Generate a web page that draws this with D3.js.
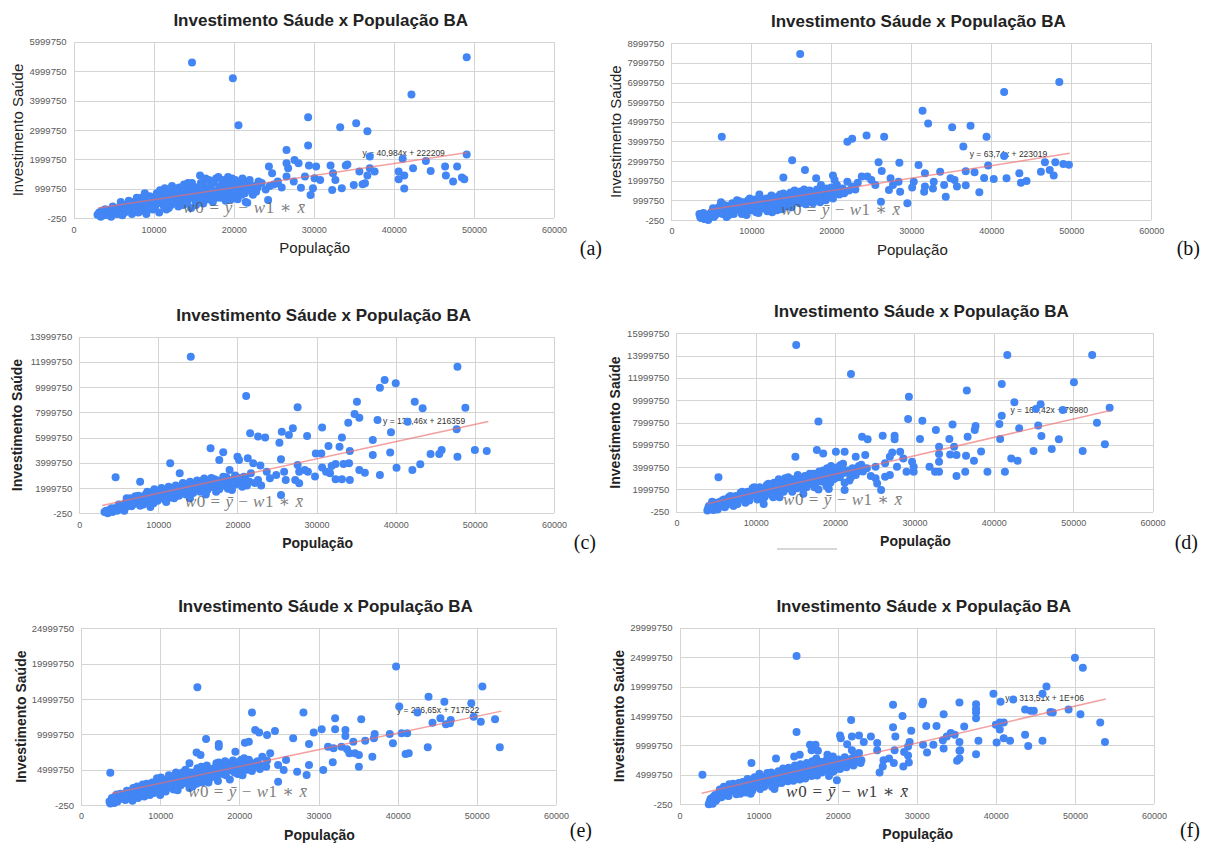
<!DOCTYPE html>
<html>
<head>
<meta charset="utf-8">
<script src="https://cdn.jsdelivr.net/npm/d3@7"></script>
<style>
  body { margin: 0; background: #fff; }
  svg { display: block; font-family: Arial, "Liberation Sans", sans-serif; }
  .grid line { stroke: #d4d4d4; stroke-width: 1; shape-rendering: crispEdges; }
  .grid path { display: none; }
  .ticks text { fill: #5a5a5a; }
  .ticks path, .ticks line { display: none; }
</style>
</head>
<body>
<svg width="1210" height="847"></svg>
<script>
// population in thousands, investment in millions
var pointsA = [
  [14.8,5.29],[19.9,4.76],[20.6,3.16],[49.1,5.47],[42.2,4.21],[29.3,3.43],[29.3,2.47],[33.3,3.09],[35.3,3.23],[36.7,2.96],
  [26.6,2.32],[27.6,1.98],[37.0,2.10],[49.1,2.17],[41.1,2.02],[44.0,1.95],[42.4,1.70],[46.4,1.76],[47.9,1.76],[44.6,1.61],
  [46.5,1.45],[47.4,1.25],[48.5,1.39],[48.8,1.33],[40.6,1.33],[40.6,1.59],[41.3,1.45],[41.3,1.01],[37.6,1.59],[37.0,1.70],
  [35.7,1.59],[36.7,1.45],[36.4,1.19],[35.0,1.13],[36.1,1.16],[34.0,1.79],[34.2,1.83],[32.1,1.79],[32.4,1.53],[32.7,1.30],
  [33.5,1.02],[32.3,0.96],[30.3,1.76],[29.4,1.79],[28.9,1.42],[30.1,1.36],[30.8,1.30],[29.9,1.02],[29.6,0.79],[28.4,1.04],
  [28.1,1.87],[26.6,1.87],[26.6,1.42],[26.8,1.70],[24.4,1.76],[24.8,1.53],[24.3,0.62],[21.7,0.53],[23.1,1.25],[25.5,1.19],
  [27.5,1.25],[23.5,1.2],[24.0,0.98],[24.5,1.1],[25.0,1.15],[25.5,1.25],[26.0,1.05],
  [3.0,0.12],[3.2,0.2],[3.5,0.25],[3.8,0.1],[4.0,0.3],[4.3,0.18],[4.6,0.28],[5.0,0.22],[5.3,0.35],[5.6,0.3],
  [6.0,0.4],[6.2,0.25],[6.5,0.45],[6.8,0.35],[7.0,0.5],[7.2,0.3],[7.5,0.55],[7.8,0.42],[8.0,0.6],[8.3,0.38],
  [8.5,0.7],[8.8,0.5],[9.0,0.62],[9.2,0.35],[9.5,0.75],[9.8,0.55],[10.0,0.68],[10.2,0.4],[10.4,0.85],[10.6,0.6],
  [10.8,0.95],[11.0,0.5],[11.2,0.72],[11.4,1.02],[11.6,0.3],[11.8,0.62],[12.0,0.82],[12.2,0.45],[12.4,0.95],[12.6,0.7],
  [12.8,0.55],[13.0,0.88],[13.2,1.05],[13.4,0.6],[13.6,0.75],[13.8,1.15],[14.0,0.9],[14.2,0.5],[14.4,1.0],[14.6,0.7],
  [14.8,1.2],[15.0,0.85],[15.2,0.6],[15.4,1.05],[15.6,0.9],[15.8,1.45],[16.0,0.75],[16.3,1.1],[16.6,0.95],[16.9,1.3],
  [17.2,0.8],[17.5,1.2],[17.8,1.35],[18.0,0.95],[18.3,1.1],[18.6,1.3],[18.9,0.85],[19.2,1.2],[19.5,1.0],[19.8,1.35],
  [20.0,0.75],[20.3,1.1],[20.6,0.9],[20.9,1.25],[21.2,1.0],[21.5,0.55],[21.8,1.15],[22.2,0.95],[22.6,1.1],[23.0,1.05],
  [3.4,0.05],[3.9,0.3],[4.4,0.1],[4.9,0.4],[5.4,0.15],[5.9,0.55],[6.4,0.2],[6.9,0.6],[7.4,0.2],[7.9,0.7],
  [8.4,0.25],[8.9,0.85],[9.4,0.5],[9.9,0.3],[10.3,0.75],[10.7,0.2],[11.1,0.85],[11.5,0.65],[11.9,0.35],[12.3,1.1],
  [12.7,0.85],[13.1,0.4],[13.5,0.95],[13.9,0.7],[14.3,1.2],[14.7,0.35],[15.1,1.05],[15.5,0.75],[15.9,1.2],[16.2,0.5],
  [16.5,1.35],[16.8,0.65],[17.1,1.05],[17.4,0.55],[17.7,0.9],[18.1,1.4],[18.4,0.7],[18.7,1.05],[19.0,0.6],[19.3,1.4],
  [19.6,0.8],[19.9,1.15],[20.2,1.3],[20.5,0.65],[20.8,1.05],[21.1,1.35],[21.4,0.85],[21.7,1.2],[22.0,1.3],[22.4,0.8],
  [14.0,0.6],[13.3,0.8],[12.9,1.0],[11.7,0.9],[10.9,0.6],[9.7,0.65],[8.6,0.55],[7.6,0.38],[6.6,0.33],[5.8,0.15],
  [4.7,0.05],[6.1,0.1],[7.3,0.15],[8.1,0.2],[9.1,0.15],[10.1,0.55],[11.3,0.4],[12.1,0.6],[13.7,0.45],[14.5,0.85],
  [15.3,0.45],[16.1,0.95],[16.7,0.8],[17.3,1.2],[17.9,0.7],[18.5,0.9],[19.1,1.05],[19.7,0.65],[20.4,0.95],[21.0,0.8],
  [21.6,1.0],[22.8,0.9],[15.7,0.6],[13.9,1.05]
];
var pointsB = [
  [16.1,8.46],[48.5,7.03],[41.6,6.52],[31.4,5.57],[32.1,4.91],[35.1,4.72],[37.4,4.80],[39.4,4.24],[36.5,3.74],[6.3,4.24],
  [22.0,3.99],[22.6,4.14],[24.4,4.30],[26.6,4.24],[15.1,3.04],[14.0,2.16],[16.7,2.55],[25.9,2.94],[26.3,2.50],[28.5,2.92],
  [30.9,2.80],[31.7,2.38],[33.6,2.46],[41.6,3.26],[46.7,2.94],[48.0,2.94],[49.0,2.85],[49.7,2.82],[39.6,2.77],[46.2,2.46],
  [47.3,2.55],[47.8,2.26],[43.5,2.38],[43.7,1.90],[44.4,1.99],[41.9,2.12],[40.3,2.09],[39.1,2.14],[37.9,2.43],[36.8,2.48],
  [38.5,1.41],[36.8,1.77],[35.4,2.04],[35.7,1.70],[34.3,1.19],[34.1,1.78],[34.9,2.12],[32.8,1.95],[31.7,1.70],[31.6,1.44],
  [32.7,1.61],[29.5,0.85],[26.2,0.93],[28.4,1.95],[28.6,1.44],[30.3,1.95],[30.1,1.66],[27.4,2.12],[27.7,1.78],[27.2,1.53],
  [25.5,1.78],[25.0,2.04],[24.5,2.21],[23.8,2.21],[23.3,1.90],[22.6,1.70],[22.0,1.95],[21.6,1.36],[20.7,1.78],[20.2,2.26],
  [20.4,2.04],[18.7,1.78],[18.1,2.12],
  [3.5,0.3],[3.7,0.1],[3.9,0.2],[4.1,0.05],[4.3,0.25],[4.6,0.0],[5.0,0.4],[5.3,0.15],[5.6,0.5],[6.0,0.35],
  [6.2,0.9],[6.5,0.55],[6.8,0.4],[7.0,0.7],[7.3,0.5],[7.6,0.85],[7.9,0.6],[8.2,1.0],[8.4,0.75],[8.7,0.45],
  [9.0,0.9],[9.3,0.7],[9.6,1.0],[9.9,0.6],[10.2,0.85],[10.5,1.05],[10.8,0.7],[11.0,1.3],[11.3,0.9],[11.6,0.6],
  [11.9,1.1],[12.2,0.8],[12.5,1.25],[12.8,1.0],[13.1,0.75],[13.4,1.2],[13.7,1.0],[14.0,1.35],[14.3,0.9],[14.6,1.15],
  [14.9,1.4],[15.2,1.05],[15.5,1.3],[15.8,0.95],[16.1,1.45],[16.4,1.2],[16.7,1.0],[17.0,1.35],[17.3,1.5],[17.6,1.15],
  [17.9,1.3],[18.2,1.55],[18.5,1.05],[18.8,1.4],[19.1,1.2],[19.4,1.6],[19.7,1.35],[20.0,1.65],[20.3,1.45],[13.8,0.55],
  [12.0,0.45],
  [3.6,0.15],[4.0,0.35],[4.4,0.1],[4.8,0.3],[5.2,0.6],[5.5,0.25],[5.9,0.65],[6.4,0.3],[6.7,0.75],[7.1,0.4],
  [7.5,0.65],[7.8,0.3],[8.1,0.55],[8.5,0.95],[8.9,0.65],[9.2,0.4],[9.5,0.8],[9.8,1.1],[10.1,0.5],[10.4,0.7],
  [10.7,0.95],[11.1,0.55],[11.5,1.05],[11.8,0.75],[12.1,0.55],[12.4,0.95],[12.7,0.65],[13.0,1.15],[13.3,0.85],[13.6,1.3],
  [13.9,0.85],[14.2,1.1],[14.5,0.7],[14.8,1.25],[15.1,0.9],[15.4,1.5],[15.7,1.15],[16.0,0.85],[16.3,1.3],[16.6,1.55],
  [16.9,1.15],[17.2,0.95],[17.5,1.4],[17.8,1.0],[18.1,1.25],[18.4,1.45],[18.7,1.2],[19.0,1.5],[19.3,1.0],[19.6,1.45],
  [19.9,1.25],[20.5,1.6],[21.0,1.3],[12.6,0.4],[10.9,0.35],[9.4,0.25],[6.9,0.15],
  [5.1,0.2],[6.0,0.55],[7.2,0.25],[8.0,0.8],[8.8,0.3],[9.7,0.5],[10.6,0.4],[11.4,0.75],[12.3,0.6],[13.2,0.5],
  [14.1,0.7],[15.0,0.65],[15.9,1.2],[16.8,0.8],[17.7,0.85],[18.6,0.9],[19.5,1.15],[20.2,1.1],[20.8,1.45],[21.4,1.6],
  [22.2,1.5],[23.0,1.55]
];
var pointsC = [
  [14.1,12.41],[47.8,11.62],[21.1,9.30],[38.6,10.57],[40.0,10.30],[38.0,9.96],[27.6,8.40],[35.1,8.85],[42.4,8.85],[43.4,8.32],
  [48.8,8.37],[34.8,7.87],[35.4,7.58],[37.7,7.40],[34.0,7.18],[41.5,7.26],[47.7,6.66],[39.4,6.42],[30.7,6.81],[25.6,6.47],
  [27.0,6.74],[26.5,6.21],[28.8,6.13],[21.6,6.34],[22.6,6.08],[23.5,6.00],[25.3,5.60],[33.2,6.00],[37.1,5.81],[31.5,5.34],
  [32.9,5.28],[34.2,4.94],[16.6,5.15],[18.2,4.83],[20.0,4.49],[21.3,4.36],[17.7,4.23],[20.2,4.23],[11.5,3.96],[12.7,3.17],
  [25.5,4.28],[29.9,4.75],[30.6,4.75],[37.1,4.62],[39.3,4.81],[45.8,5.02],[44.4,4.70],[45.5,4.70],[50.0,5.02],[51.5,4.94],
  [47.8,4.49],[43.1,3.88],[40.1,3.62],[42.1,3.43],[38.0,3.04],[36.1,3.22],[35.4,3.43],[34.1,3.96],[33.4,3.91],[32.4,3.91],
  [31.9,3.75],[30.7,3.64],[31.2,3.30],[31.7,3.17],[32.4,2.69],[33.2,2.69],[34.2,2.64],[29.8,2.91],[28.5,3.43],[28.9,3.30],
  [27.8,3.30],[27.6,3.83],[27.8,2.38],[27.3,2.64],[25.5,1.45],[26.1,2.64],[25.9,3.30],[24.9,3.04],[24.1,2.77],[23.7,3.30],
  [22.9,3.78],[22.0,3.96],[21.7,3.17],[22.6,2.64],[21.5,2.51],[20.2,2.38],[19.8,2.91],[19.0,3.43],[19.3,1.85],[4.6,2.85],
  [7.7,2.51],
  [3.2,0.1],[3.6,0.0],[3.9,0.3],[4.2,0.1],[4.5,0.4],[4.8,0.2],[5.2,0.6],[5.5,0.35],[5.8,0.8],[6.0,1.2],
  [6.3,0.9],[6.6,0.55],[6.9,1.1],[7.2,0.8],[7.5,1.4],[7.8,1.0],[8.1,0.7],[8.4,1.5],[8.7,1.2],[9.0,0.9],
  [9.3,1.7],[9.6,1.35],[9.9,1.0],[10.2,1.8],[10.5,1.4],[10.8,1.1],[11.1,1.9],[11.4,1.6],[11.7,1.25],[12.0,2.0],
  [12.3,1.7],[12.6,1.4],[12.9,2.1],[13.2,1.8],[13.5,1.5],[13.8,2.3],[14.1,1.95],[14.4,1.6],[14.7,2.4],[15.0,2.0],
  [15.3,1.7],[15.6,2.6],[15.9,2.2],[16.2,1.85],[16.5,2.5],[16.8,2.1],[17.1,2.7],[17.4,2.3],[17.7,1.9],[18.0,2.6],
  [18.3,2.2],[18.6,2.85],[18.9,2.4],[19.2,2.0],[19.5,2.7],[19.8,2.3],[20.4,2.6],[20.8,2.9],[21.2,2.2],[14.0,1.2],
  [11.0,0.9],[9.0,0.5],
  [3.4,0.2],[3.8,0.15],[4.1,0.4],[4.6,0.3],[5.0,0.7],[5.4,0.5],[5.7,0.2],[6.1,0.8],[6.5,1.2],[6.8,0.7],
  [7.1,1.35],[7.4,1.0],[7.7,0.6],[8.0,1.3],[8.3,0.95],[8.6,1.7],[8.9,1.4],[9.2,1.05],[9.5,1.9],[9.8,1.6],
  [10.1,1.25],[10.4,2.0],[10.7,1.65],[11.0,1.3],[11.3,2.1],[11.6,1.8],[11.9,1.5],[12.2,2.2],[12.5,1.9],[12.8,1.55],
  [13.1,2.4],[13.4,2.0],[13.7,1.7],[14.0,2.5],[14.3,2.15],[14.6,1.8],[14.9,2.6],[15.2,2.3],[15.5,1.95],[15.8,2.75],
  [16.1,2.4],[16.4,2.05],[16.7,2.8],[17.0,2.3],[17.3,1.7],[17.6,2.5],[17.9,2.15],[18.2,2.9],[18.5,2.45],[18.8,1.95],
  [19.1,2.6],[19.4,2.2],[19.7,3.0],[20.0,2.5],[20.6,2.1],[21.0,2.75],[9.4,0.8],[12.0,1.2],[16.0,1.5],
  [5.9,0.5],[6.7,0.9],[7.6,1.2],[8.5,1.1],[9.4,1.5],[10.3,1.5],[11.2,1.7],[12.1,1.6],[13.0,1.9],[13.9,2.1],
  [14.8,2.05],[15.7,2.3],[16.6,2.2],[17.5,2.6],[18.4,2.4],[19.3,2.4],[20.2,2.8],[21.4,2.5],[22.2,2.4],[23.0,2.2]
];
var pointsD = [
  [15.1,14.95],[41.7,14.05],[52.4,14.05],[22.0,12.35],[50.1,11.60],[41.0,11.45],[36.6,10.86],[29.3,10.32],[42.6,9.81],[45.9,9.63],
  [54.6,9.33],[48.7,9.12],[45.3,9.21],[41.0,8.61],[29.2,8.31],[31.0,8.16],[17.9,8.10],[34.8,7.83],[40.7,7.86],[37.7,7.69],
  [45.6,7.72],[53.0,7.98],[43.2,7.48],[37.6,7.33],[32.7,7.33],[26.0,6.82],[27.5,6.82],[27.5,6.49],[23.4,6.73],[24.1,6.49],
  [34.4,6.52],[36.7,6.73],[30.7,6.52],[40.8,6.52],[46.0,6.79],[48.2,6.49],[54.0,6.04],[51.2,5.44],[47.3,5.62],[45.0,5.44],
  [38.4,5.41],[37.5,4.58],[36.5,5.02],[35.3,5.08],[34.5,5.14],[35.0,5.83],[33.1,5.83],[33.1,5.17],[33.1,4.49],[31.9,4.04],
  [32.6,3.59],[33.1,3.59],[29.0,3.59],[29.9,3.59],[29.7,4.49],[29.9,4.04],[27.8,4.04],[28.6,4.78],[28.2,5.38],[27.2,5.32],
  [26.9,4.93],[26.3,4.34],[25.1,4.04],[26.9,3.29],[26.3,3.14],[25.1,2.99],[25.3,2.54],[25.8,1.94],[39.2,3.59],[41.4,3.59],
  [43.0,4.58],[42.2,4.78],[35.3,3.20],[36.4,3.59],[5.3,3.08],[17.7,5.53],[18.5,5.23],[15.0,4.93],[20.1,5.38],[21.2,5.38],
  [22.6,4.93],[23.8,5.08],[20.7,4.19],[22.1,3.59],[21.2,1.94],[19.2,2.03],[20.2,3.44],
  [3.9,0.1],[4.1,0.5],[4.3,0.2],[4.5,0.9],[4.8,0.4],[5.2,0.2],[5.6,0.7],[6.0,1.1],[6.3,0.6],[6.6,1.3],
  [6.9,0.9],[7.2,0.5],[7.5,1.4],[7.8,1.0],[8.1,1.7],[8.4,1.2],[8.7,0.8],[9.0,1.8],[9.3,1.4],[9.6,2.1],
  [9.9,1.6],[10.2,1.1],[10.5,2.2],[10.8,1.7],[11.1,1.3],[11.4,2.4],[11.7,1.9],[12.0,1.5],[12.3,2.6],[12.6,2.1],
  [12.9,2.9],[13.2,2.3],[13.5,1.8],[13.8,2.7],[14.1,3.1],[14.4,2.2],[14.7,2.9],[15.0,2.4],[15.3,3.3],[15.6,2.7],
  [15.9,2.1],[16.2,3.2],[16.5,2.6],[16.8,3.4],[17.1,2.9],[17.4,2.2],[17.7,3.1],[18.0,3.6],[18.3,2.7],[18.6,3.3],
  [18.9,2.3],[19.2,3.5],[19.5,4.1],[19.8,2.9],[20.2,3.7],[20.6,3.1],[21.0,4.3],[21.4,3.5],[21.8,2.8],[22.2,3.9],
  [22.6,3.3],[23.0,4.1],[23.5,3.6],[24.0,3.9],[24.5,3.2],[11.0,0.7],[13.0,1.3],[16.0,1.6],
  [4.0,0.3],[4.4,0.6],[4.7,0.15],[5.0,0.8],[5.4,0.45],[5.8,1.0],[6.1,0.4],[6.5,0.9],[6.8,1.4],[7.1,0.8],
  [7.4,1.15],[7.7,0.7],[8.0,1.3],[8.3,1.8],[8.6,1.1],[8.9,1.5],[9.2,1.0],[9.5,1.7],[9.8,2.2],[10.1,1.4],
  [10.4,1.8],[10.7,1.2],[11.0,2.0],[11.3,1.6],[11.6,2.5],[11.9,1.8],[12.2,1.3],[12.5,2.3],[12.8,1.7],[13.1,2.6],
  [13.4,2.0],[13.7,3.0],[14.0,2.1],[14.3,2.6],[14.6,1.8],[14.9,2.7],[15.2,2.1],[15.5,3.0],[15.8,2.4],[16.1,2.9],
  [16.4,2.2],[16.7,3.1],[17.0,2.5],[17.3,3.4],[17.6,2.6],[17.9,2.0],[18.2,3.0],[18.5,3.7],[18.8,2.8],[19.1,3.2],
  [19.4,2.6],[19.7,3.6],[20.0,3.0],[20.4,4.0],[20.8,3.4],[21.2,2.6],[21.6,3.7],[22.0,3.1],[22.8,3.6],[23.3,4.2],
  [5.5,0.9],[6.4,1.1],[7.3,1.2],[8.2,1.4],[9.1,1.3],[10.0,1.9],[10.9,2.0],[11.8,2.2],[12.7,2.4],[13.6,2.5],
  [14.5,2.5],[15.4,2.8],[16.3,2.8],[17.2,3.2],[18.1,3.2],[19.0,3.9],[19.9,3.4],[20.9,3.9],[21.9,3.4],[23.1,3.9]
];
var pointsE = [
  [14.7,16.65],[39.8,19.58],[50.7,16.75],[43.9,15.33],[45.9,14.62],[49.3,14.39],[40.2,13.92],[42.5,13.07],[21.6,13.07],[28.1,13.07],
  [32.1,12.26],[35.4,12.12],[45.4,12.26],[46.7,12.03],[49.6,12.5],[52.3,12.12],[50.5,11.79],[44.4,11.65],[46.1,11.42],[46.6,11.56],
  [40.5,10.14],[41.2,10.14],[39.0,10.05],[37.1,10.05],[35.9,9.10],[37.0,9.43],[39.4,8.73],[34.4,8.96],[33.4,10.61],[33.4,9.76],
  [32.1,10.71],[30.4,10.71],[29.4,10.24],[22.0,10.61],[22.5,10.24],[23.5,9.91],[24.5,10.47],[15.8,9.34],[17.4,8.63],[17.4,8.25],
  [20.7,8.82],[21.2,8.96],[26.8,9.43],[28.8,8.63],[31.2,8.25],[31.9,8.02],[32.9,8.25],[33.6,7.88],[33.9,7.31],[34.6,7.31],
  [35.1,7.08],[36.8,6.84],[41.4,7.31],[41.0,7.22],[43.8,8.16],[52.9,8.16],[35.1,5.42],[30.6,4.95],[31.8,6.04],[28.8,5.66],
  [27.3,4.72],[28.5,4.25],[25.9,6.37],[24.9,5.66],[25.6,4.95],[24.9,3.30],[22.9,6.84],[23.9,7.31],[19.5,7.55],[20.2,6.37],
  [3.7,4.58],[14.6,7.41],[15.1,7.08],[13.7,5.90],[17.1,5.90],[19.0,5.42],[21.5,5.90],[23.4,5.42],
  [3.6,0.5],[3.9,1.0],[4.2,0.3],[4.5,1.5],[4.8,0.8],[5.2,1.2],[5.6,0.7],[6.0,1.8],[6.3,1.2],[6.6,2.4],
  [6.9,1.6],[7.2,1.0],[7.5,2.2],[7.8,2.9],[8.1,1.8],[8.4,2.5],[8.7,1.4],[9.0,3.2],[9.3,2.4],[9.6,3.8],
  [9.9,2.9],[10.2,1.9],[10.5,3.5],[10.8,2.6],[11.1,4.2],[11.4,3.2],[11.7,2.2],[12.0,4.6],[12.3,3.6],[12.6,2.8],
  [12.9,4.2],[13.2,5.0],[13.5,3.4],[13.8,4.6],[14.1,2.6],[14.4,3.9],[14.7,5.2],[15.0,4.1],[15.3,3.2],[15.6,4.8],
  [15.9,5.6],[16.2,3.7],[16.5,4.5],[16.8,5.2],[17.1,3.9],[17.4,6.0],[17.7,4.7],[18.0,5.4],[18.3,4.2],[18.6,5.9],
  [18.9,4.9],[19.2,6.3],[19.5,5.2],[19.8,4.4],[20.2,5.8],[20.6,6.6],[21.0,5.0],[21.4,6.0],[21.8,5.4],[22.3,6.2],
  [23.0,5.5],[6.5,0.6],[10.0,1.4],
  [3.7,0.2],[4.0,0.7],[4.3,1.2],[4.6,0.5],[5.0,1.6],[5.4,0.9],[5.8,2.0],[6.1,1.4],[6.4,0.9],[6.8,2.0],
  [7.1,2.6],[7.4,1.5],[7.7,2.2],[8.0,1.2],[8.3,3.0],[8.6,2.1],[8.9,2.7],[9.2,1.7],[9.5,3.3],[9.8,2.4],
  [10.1,3.9],[10.4,2.8],[10.7,1.9],[11.0,3.4],[11.3,2.5],[11.6,4.0],[11.9,3.0],[12.2,2.1],[12.5,3.8],[12.8,4.6],
  [13.1,3.1],[13.4,4.1],[13.7,2.4],[14.0,3.6],[14.3,4.6],[14.6,3.0],[14.9,4.3],[15.2,5.4],[15.5,3.6],[15.8,4.4],
  [16.1,3.2],[16.4,5.0],[16.7,4.0],[17.0,4.8],[17.3,3.4],[17.6,5.4],[17.9,4.4],[18.2,6.2],[18.5,5.0],[18.8,3.6],
  [19.1,5.6],[19.4,4.6],[19.7,6.0],[20.0,5.0],[20.4,4.2],[20.8,5.6],[21.2,6.4],[21.6,4.8],[22.0,5.9],[22.6,5.1],
  [5.5,1.4],[6.7,1.3],[7.6,1.8],[8.5,2.8],[9.4,2.9],[10.3,3.4],[11.2,3.0],[12.1,3.3],[13.0,3.6],[13.9,4.0],
  [14.8,3.6],[15.7,4.1],[16.6,4.3],[17.5,4.5],[18.4,5.2],[19.3,5.4],[20.3,5.1],[21.3,5.5],[22.4,5.8],[23.5,6.3]
];
var pointsF = [
  [14.8,25.2],[50.0,24.9],[51.0,23.2],[46.4,20.0],[39.7,18.8],[45.9,18.8],[42.2,17.8],[35.4,17.3],[27.0,16.9],[30.8,17.4],
  [30.7,17.0],[33.4,15.3],[37.5,17.0],[37.5,16.2],[40.6,17.4],[43.7,16.1],[44.4,15.9],[44.8,15.9],[46.9,15.7],[47.2,15.6],
  [49.2,16.1],[50.7,15.3],[53.2,13.9],[53.8,10.6],[40.0,13.5],[40.5,13.9],[41.0,13.9],[40.5,12.7],[43.7,11.8],[41.0,11.2],
  [41.8,10.8],[40.1,10.5],[44.1,9.9],[45.9,10.8],[37.8,10.8],[37.5,8.5],[37.5,15.6],[37.5,14.6],[36.0,13.2],[34.3,12.1],
  [33.8,11.5],[34.8,11.8],[35.4,10.6],[35.4,9.1],[35.1,7.4],[35.4,7.8],[35.5,9.2],[33.3,10.9],[33.4,9.5],[32.5,13.3],
  [31.2,13.3],[31.3,8.8],[32.1,10.1],[30.8,10.1],[29.3,12.5],[28.2,15.0],[27.0,13.1],[27.3,11.5],[29.1,10.6],[28.9,9.8],
  [28.4,8.9],[28.9,8.3],[29.0,7.1],[28.3,6.4],[27.2,9.2],[26.5,7.8],[27.1,7.0],[25.8,7.5],[25.3,5.4],[25.7,6.4],
  [25.0,9.2],[25.0,10.4],[24.2,11.5],[23.3,10.6],[22.7,11.7],[21.8,11.5],[21.7,14.3],[20.3,11.7],[20.4,11.2],[21.2,10.2],
  [21.8,9.2],[22.7,8.7],[22.9,7.0],[19.9,4.1],[14.8,12.3],[16.5,10.1],[17.2,10.1],[17.5,9.1],[18.7,8.4],[19.4,8.1],
  [16.7,9.2],[15.2,8.4],[14.5,8.1],[9.1,7.0],[12.2,7.8],[2.9,5.0],[17.9,7.2],[16.0,6.1],
  [3.7,0.0],[3.9,0.8],[4.1,0.3],[4.3,1.3],[4.6,0.6],[5.0,2.0],[5.3,1.2],[5.6,3.0],[5.9,2.0],[6.2,1.4],
  [6.5,2.8],[6.8,3.5],[7.1,2.2],[7.4,3.1],[7.7,1.8],[8.0,3.8],[8.3,2.7],[8.6,4.3],[8.9,3.2],[9.2,2.3],
  [9.5,4.6],[9.8,3.6],[10.1,5.2],[10.4,4.1],[10.7,3.0],[11.0,4.8],[11.3,3.7],[11.6,5.4],[11.9,4.3],[12.2,3.4],
  [12.5,5.6],[12.8,4.5],[13.1,6.1],[13.4,5.0],[13.7,3.9],[14.0,5.8],[14.3,4.6],[14.6,6.6],[14.9,5.3],[15.2,4.2],
  [15.5,6.2],[15.8,5.1],[16.1,7.0],[16.4,5.7],[16.7,4.8],[17.0,6.6],[17.3,7.8],[17.6,5.5],[17.9,6.9],[18.2,5.8],
  [18.5,7.4],[18.8,6.3],[19.1,5.3],[19.4,7.0],[19.7,6.0],[20.1,7.6],[20.5,6.5],[20.9,8.0],[21.3,6.9],[21.8,7.8],
  [22.3,7.2],[9.0,1.8],[12.0,2.6],
  [3.8,0.4],[4.0,1.0],[4.2,0.1],[4.5,1.6],[4.8,1.0],[5.1,2.5],[5.4,1.6],[5.7,2.4],[6.0,1.5],[6.3,3.4],
  [6.6,2.3],[6.9,2.9],[7.2,1.7],[7.5,3.6],[7.8,2.6],[8.1,3.2],[8.4,2.0],[8.7,3.6],[9.0,2.8],[9.3,4.3],
  [9.6,3.0],[9.9,4.1],[10.2,2.6],[10.5,4.6],[10.8,3.6],[11.1,5.3],[11.4,4.1],[11.7,3.0],[12.0,4.8],[12.3,4.0],
  [12.6,5.0],[12.9,3.6],[13.2,5.4],[13.5,4.4],[13.8,6.2],[14.1,5.0],[14.4,4.0],[14.7,5.7],[15.0,4.6],[15.3,6.8],
  [15.6,5.5],[15.9,4.4],[16.2,6.3],[16.5,5.2],[16.8,7.3],[17.1,5.9],[17.4,4.9],[17.7,6.4],[18.0,5.4],[18.3,7.0],
  [18.6,6.0],[18.9,4.8],[19.2,6.6],[19.5,5.6],[19.8,7.3],[20.3,6.0],[20.7,7.0],[21.1,6.3],[21.6,7.4],[22.0,6.6],
  [5.5,2.1],[6.7,2.6],[7.6,3.3],[8.5,3.3],[9.4,3.6],[10.3,4.4],[11.2,4.4],[12.1,4.6],[13.0,5.2],[13.9,5.0],
  [14.8,5.8],[15.7,6.0],[16.6,6.1],[17.5,6.6],[18.4,6.3],[19.3,7.4],[20.2,6.9],[21.0,7.2],[22.1,8.1],[23.0,7.5]
];

var xTicks = [0, 10000, 20000, 30000, 40000, 50000, 60000];
var yTicksA = [-250, 999750, 1999750, 2999750, 3999750, 4999750, 5999750];
var yTicksB = [-250, 999750, 1999750, 2999750, 3999750, 4999750, 5999750, 6999750, 7999750, 8999750];
var yTicksC = [-250, 1999750, 3999750, 5999750, 7999750, 9999750, 11999750, 13999750];
var yTicksD = [-250, 1999750, 3999750, 5999750, 7999750, 9999750, 11999750, 13999750, 15999750];
var yTicksE = [-250, 4999750, 9999750, 14999750, 19999750, 24999750];
var yTicksF = [-250, 4999750, 9999750, 14999750, 19999750, 24999750, 29999750];

var trendSlopes = [40.984, 63.74, 136.46, 164.42, 236.65, 313.51];
var trendIntercepts = [222209, 223019, 216359, 79980, 717522, 1000000];
var trendRanges = [[3100, 49200], [4700, 49800], [2900, 51700], [3900, 54700], [3900, 53100], [2800, 53900]];
var trendLabels = ["y = 40,984x + 222209", "y = 63,74x + 223019", "y = 136,46x + 216359",
                   "y = 164,42x + 79980", "y = 236,65x + 717522", "y = 313,51x + 1E+06"];
// where each equation label sits (data units)
var trendLabelAt = [[36100, 2120000], [37300, 3230000], [38400, 7050000], [42100, 8880000], [39900, 12970000], [41200, 17540000]];
var panelLetters = ["(a)", "(b)", "(c)", "(d)", "(e)", "(f)"];

var titleText = "Investimento Sáude x População BA";
var xLabelText = "População";
var yLabelText = "Investimento Saúde";

// plot rectangles and label placements
var layout = [
  {pts: pointsA, yTicks: yTicksA, l: 73.5, r: 554, t: 41.7, b: 218.3, bold: false, ylx: 56, letter: [602, 255], formula: [183, 213, 122]},
  {pts: pointsB, yTicks: yTicksB, l: 671.4, r: 1151.3, t: 43.3, b: 220, bold: false, ylx: 56, letter: [1200, 255], formula: [781, 215, 119]},
  {pts: pointsC, yTicks: yTicksC, l: 79.2, r: 554, t: 336.7, b: 513.3, bold: true, ylx: 62, letter: [596, 549], formula: [185, 507, 118]},
  {pts: pointsD, yTicks: yTicksD, l: 676.4, r: 1152.5, t: 333.3, b: 511.7, bold: true, ylx: 61, letter: [1198, 549], formula: [783, 505, 119]},
  {pts: pointsE, yTicks: yTicksE, l: 81, r: 556, t: 628.3, b: 805, bold: true, ylx: 60, letter: [592, 837], formula: [188, 797, 119]},
  {pts: pointsF, yTicks: yTicksF, l: 679.5, r: 1154, t: 627.7, b: 804.3, bold: true, ylx: 61, letter: [1200, 837], formula: [786, 797, 122]}
];

var svg = d3.select("svg");

layout.forEach(function(p, i) {
    var x = d3.scaleLinear().domain([0, 60000]).range([p.l, p.r]);
    var y = d3.scaleLinear().domain([p.yTicks[0], p.yTicks[p.yTicks.length - 1]]).range([p.b, p.t]);
    var w = p.r - p.l, h = p.b - p.t;
    var g = svg.append("g");

    // gridlines
    g.append("g").attr("class", "grid")
        .attr("transform", `translate(0,${p.b})`)
        .call(d3.axisBottom(x).tickValues(xTicks).tickSize(-h).tickFormat(""));
    g.append("g").attr("class", "grid")
        .attr("transform", `translate(${p.l},0)`)
        .call(d3.axisLeft(y).tickValues(p.yTicks).tickSize(-w).tickFormat(""));

    // tick labels
    g.append("g").attr("class", "ticks")
        .attr("transform", `translate(0,${p.b + 5})`)
        .call(d3.axisBottom(x).tickValues(xTicks).tickSize(0).tickFormat(d => String(d)))
        .selectAll("text").attr("dy", "0.71em").style("font-size", "9px");
    g.append("g").attr("class", "ticks")
        .attr("transform", `translate(${p.l - 7},0)`)
        .call(d3.axisLeft(y).tickValues(p.yTicks).tickSize(0).tickPadding(0).tickFormat(d => String(d)))
        .selectAll("text").style("font-size", "9.5px");

    // title
    g.append("text")
        .attr("x", (p.l + p.r) / 2 + 7).attr("y", p.t - 16)
        .attr("text-anchor", "middle")
        .style("font-size", "17px").style("font-weight", "bold").style("fill", "#222")
        .text(titleText);

    // axis titles
    g.append("text")
        .attr("x", (p.l + p.r) / 2 + 1).attr("y", p.b + 34.5)
        .attr("text-anchor", "middle")
        .style("font-size", p.bold ? "14px" : "15px")
        .style("font-weight", p.bold ? "bold" : "normal").style("fill", "#222")
        .text(xLabelText);
    g.append("text")
        .attr("transform", `translate(${p.l - p.ylx},${(p.t + p.b) / 2}) rotate(-90)`)
        .attr("text-anchor", "middle").attr("dominant-baseline", "central")
        .style("font-size", p.bold ? "14px" : "15px")
        .style("font-weight", p.bold ? "bold" : "normal").style("fill", "#222")
        .text(yLabelText);

    // equation label
    g.append("text")
        .attr("x", x(trendLabelAt[i][0])).attr("y", y(trendLabelAt[i][1]))
        .style("font-size", "8.5px").style("fill", "#333")
        .text(trendLabels[i]);

    // points
    g.append("g").selectAll("circle").data(p.pts).enter().append("circle")
        .attr("cx", d => x(d[0] * 1000))
        .attr("cy", d => y(d[1] * 1000000))
        .attr("r", 4)
        .style("fill", "#4285f4");

    // trendline
    var tr = trendRanges[i];
    g.append("line")
        .attr("x1", x(tr[0])).attr("y1", y(trendSlopes[i] * tr[0] + trendIntercepts[i]))
        .attr("x2", x(tr[1])).attr("y2", y(trendSlopes[i] * tr[1] + trendIntercepts[i]))
        .style("stroke", "#ee6e6e").style("stroke-width", 1.5).style("opacity", 0.65);

    // formula overlay
    var f = p.formula;
    var ft = g.append("text")
        .attr("x", f[0]).attr("y", f[1])
        .attr("textLength", f[2]).attr("lengthAdjust", "spacing")
        .style("font-family", "'Liberation Serif', 'DejaVu Serif', serif")
        .style("font-size", "17px")
        .style("fill", i == 5 ? "#333" : "#555")
        .style("opacity", i == 5 ? 0.95 : 0.75);
    ft.append("tspan").style("font-style", "italic").text("w");
    ft.append("tspan").text("0 = ");
    ft.append("tspan").style("font-style", "italic").text("y\u0304");
    ft.append("tspan").text(" \u2212 ");
    ft.append("tspan").style("font-style", "italic").text("w");
    ft.append("tspan").text("1 \u2217 ");
    ft.append("tspan").style("font-style", "italic").text("x\u0304");

    // panel letter
    g.append("text")
        .attr("x", p.letter[0]).attr("y", p.letter[1])
        .attr("text-anchor", "end")
        .style("font-family", "'Liberation Serif', 'Times New Roman', serif")
        .style("font-size", "20px").style("fill", "#111")
        .text(panelLetters[i]);
});

// stray rule under panel (d)
svg.append("line")
    .attr("x1", 777).attr("x2", 837).attr("y1", 549).attr("y2", 549)
    .style("stroke", "#b0b0b0").style("stroke-width", 1);
</script>
</body>
</html>
